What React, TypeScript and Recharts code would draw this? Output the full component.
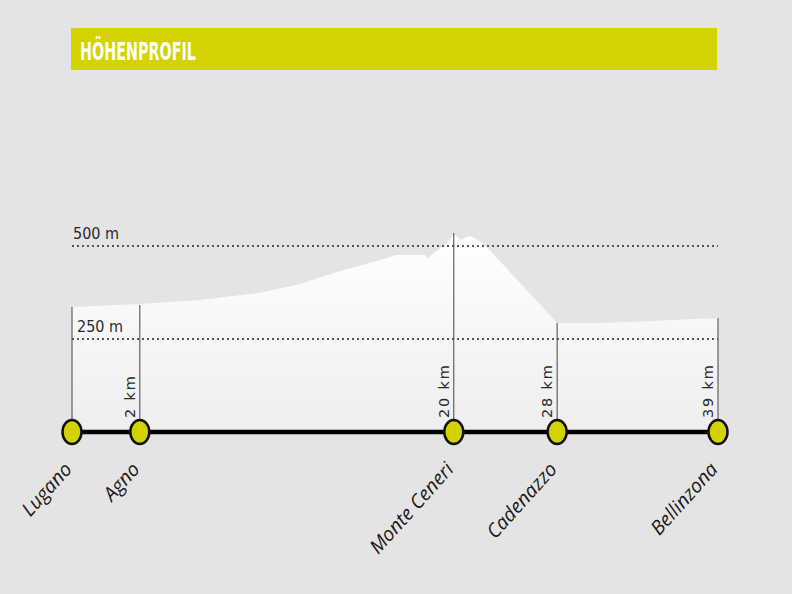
import React from "react";
import {
  ComposedChart, Area, Scatter, XAxis, YAxis, ReferenceLine,
} from "recharts";

// profile points: position along the drawn route (0..100) and height in m
const profilePos = [0, 10.5, 19.8, 29.1, 35.3, 41.5, 46.1, 49.2, 50, 54.6, 55.0, 56.2, 57.7, 58.5, 59.1, 60.1, 61.6, 62.8, 63.9, 75.1, 81.7, 89.5, 95.7, 100];
const profileElev = [336, 344, 355, 374, 398, 433, 454, 470, 476, 476, 465, 484, 503, 516, 532, 516, 527, 516, 503, 293, 293, 298, 304, 306];

const stationNames = ["Lugano", "Agno", "Monte Ceneri", "Cadenazzo", "Bellinzona"];
const stationPos = [0, 10.5, 59.1, 75.1, 100];
const stationKm = [null, 2, 20, 28, 39];
const stationElev = [336, 341, 535, 293, 306];

const levelLines = [500, 250];

const profile = profilePos.map((p, i) => ({ pos: p, elev: profileElev[i] }));
const stations = stationNames.map((n, i) => ({
  pos: stationPos[i], base: 0, name: n, km: stationKm[i], elev: stationElev[i],
}));

const YELLOW = "#d4d200";

function StationMark(props: any) {
  const { cx, cy, payload } = props;
  return (
    <g>
      {payload.km != null && (
        <text
          x={cx - 5}
          y={cy - 14}
          transform={`rotate(-90, ${cx - 5}, ${cy - 14})`}
          fontFamily="'DejaVu Sans', sans-serif"
          fontSize={14.5}
          letterSpacing={1.8}
          fill="#2a2a2a"
        >
          {payload.km} km
        </text>
      )}
      <ellipse cx={cx} cy={cy} rx={9.5} ry={12} fill={YELLOW} stroke="#111" strokeWidth={2.5} />
      <text
        x={cx + 1}
        y={cy + 38}
        transform={`rotate(-48, ${cx + 1}, ${cy + 38})`}
        textAnchor="end"
        fontFamily="'Open Sans', sans-serif"
        fontStyle="italic"
        fontSize={19.5}
        fill="#1a1a1a"
      >
        {payload.name}
      </text>
    </g>
  );
}

export default function App() {
  return (
    <div style={{ position: "absolute", left: 0, top: 0, width: 792, height: 594, background: "#e4e4e4", overflow: "hidden" }}>
      <svg width={792} height={80} style={{ position: "absolute", left: 0, top: 0 }}>
        <rect x={71} y={28} width={646} height={42} fill={YELLOW} />
        <text
          x={80}
          y={60}
          textLength={116}
          lengthAdjust="spacingAndGlyphs"
          fontFamily="'Liberation Sans Narrow', 'DejaVu Sans Condensed', sans-serif"
          fontWeight="bold"
          fontSize={24}
          fill="#fff"
        >
          HÖHENPROFIL
        </text>
      </svg>
      <div style={{ position: "absolute", left: 0, top: 0 }}>
        <ComposedChart
          width={792}
          height={594}
          data={profile}
          margin={{ top: 134.4, right: 74, bottom: 162, left: 72 }}
        >
          <defs>
            <linearGradient id="profFill" x1="0" y1="0" x2="0" y2="1">
              <stop offset="0%" stopColor="#ffffff" />
              <stop offset="100%" stopColor="#eeeeee" />
            </linearGradient>
          </defs>
          <XAxis type="number" dataKey="pos" domain={[0, 100]} hide />
          <YAxis type="number" domain={[0, 800]} hide />
          <Area
            type="linear"
            dataKey="elev"
            stroke="none"
            fill="url(#profFill)"
            fillOpacity={1}
            isAnimationActive={false}
          />
          {levelLines.map((v) => (
            <ReferenceLine
              key={v}
              y={v}
              stroke="#555"
              strokeWidth={2}
              strokeDasharray="2 3"
              label={(p: any) => (
                <text
                  x={p.viewBox.x + (v === 250 ? 5 : 1)}
                  y={p.viewBox.y - 7}
                  fontFamily="'Liberation Sans Narrow', 'DejaVu Sans Condensed', sans-serif"
                  fontSize={16}
                  fill="#2a2a2a"
                >
                  {v} m
                </text>
              )}
            />
          ))}
          {stations.map((s) => (
            <ReferenceLine
              key={s.name}
              segment={[{ x: s.pos, y: 0 }, { x: s.pos, y: s.elev }]}
              stroke="#444"
              strokeWidth={1}
            />
          ))}
          <ReferenceLine y={0} stroke="#000" strokeWidth={4.5} />
          <Scatter
            data={stations}
            dataKey="base"
            shape={StationMark}
            isAnimationActive={false}
          />
        </ComposedChart>
      </div>
    </div>
  );
}
